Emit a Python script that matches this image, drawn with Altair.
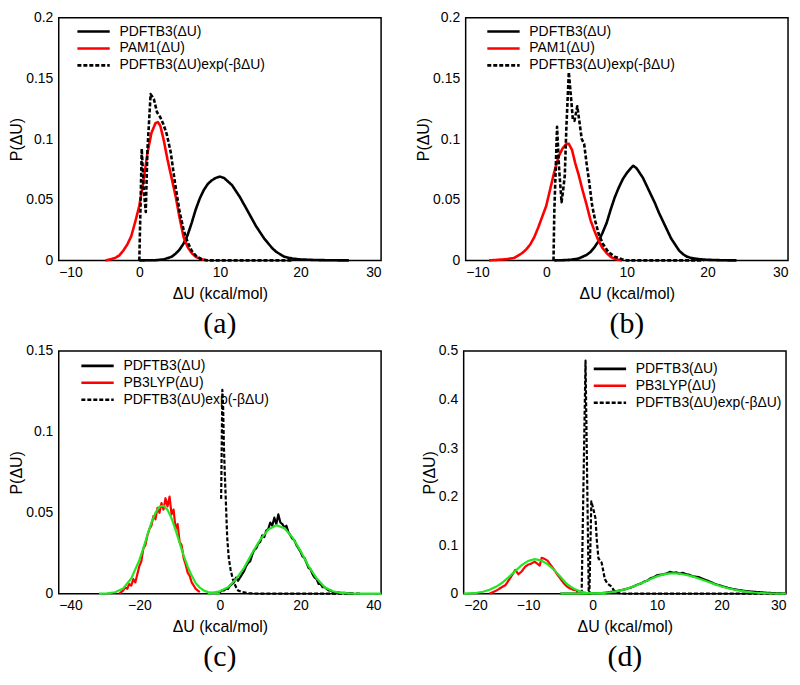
import altair as alt
import pandas as pd

FONT = "Liberation Sans"
SERIF = "Liberation Serif"

# ---------------- series names ----------------
S_DFTB3 = "PDFTB3(ΔU)"
S_AM1 = "PAM1(ΔU)"
S_B3LYP = "PB3LYP(ΔU)"
S_REW = "PDFTB3(ΔU)exp(-βΔU)"

# ---------------- panel (a) ----------------
A_DFTB3 = [(0, 0), (2, 0.0002), (3, 0.0008), (4, 0.003), (4.5, 0.0055), (5, 0.009), (5.5, 0.014),
           (6, 0.021), (6.5, 0.031), (7, 0.042), (7.5, 0.051), (8, 0.058), (8.5, 0.063), (9, 0.066),
           (9.5, 0.068), (10, 0.069), (10.5, 0.068), (11, 0.065), (11.5, 0.062), (12, 0.057),
           (12.5, 0.052), (13, 0.046), (13.5, 0.040), (14, 0.034), (14.5, 0.028), (15, 0.023),
           (15.5, 0.018), (16, 0.014), (16.5, 0.010), (17, 0.007), (17.5, 0.005), (18, 0.003),
           (19, 0.0015), (20, 0.0008), (22, 0.0003), (24, 0.0001), (26, 0)]
A_AM1 = [(-4.2, 0), (-3.5, 0.001), (-3, 0.002), (-2.5, 0.004), (-2, 0.008), (-1.5, 0.013), (-1, 0.020),
         (-0.5, 0.032), (0, 0.045), (0.5, 0.065), (1, 0.088), (1.5, 0.105), (2, 0.113), (2.3, 0.114),
         (2.6, 0.111), (3, 0.100), (3.5, 0.083), (4, 0.068), (4.5, 0.053), (5, 0.035), (5.5, 0.019),
         (6, 0.011), (6.5, 0.006), (7, 0.003), (7.5, 0.0013), (8, 0.0005), (8.5, 0)]
A_REW = [(0, 0), (0.3, 0.092), (0.55, 0.058), (0.8, 0.040), (1.0, 0.090), (1.4, 0.137), (1.8, 0.133),
         (2.2, 0.122), (2.6, 0.118), (3.0, 0.112), (3.4, 0.104), (3.9, 0.089), (4.4, 0.065), (5.0, 0.040),
         (5.5, 0.025), (6.0, 0.015), (6.5, 0.008), (7.0, 0.004), (7.7, 0.001), (8.5, 0), (19, 0)]

# ---------------- panel (b) ----------------
B_DFTB3 = [(1, 0), (2, 0.0002), (3, 0.0005), (4, 0.0015), (4.5, 0.003), (5, 0.0045), (5.5, 0.007),
           (6, 0.011), (6.5, 0.016), (7, 0.023), (7.5, 0.031), (8, 0.042), (8.5, 0.052), (9, 0.060),
           (9.5, 0.067), (10, 0.072), (10.5, 0.076), (10.8, 0.078), (11.2, 0.076), (11.5, 0.073),
           (12, 0.068), (12.5, 0.061), (13, 0.054), (13.5, 0.047), (14, 0.039), (14.5, 0.032),
           (15, 0.025), (15.5, 0.018), (16, 0.013), (16.5, 0.008), (17, 0.005), (17.5, 0.003),
           (18, 0.002), (19, 0.001), (20, 0.0005), (22, 0.0001), (23.6, 0)]
B_AM1 = [(-7.1, 0), (-6, 0.0005), (-5, 0.001), (-4, 0.002), (-3, 0.006), (-2.5, 0.009), (-2, 0.013),
         (-1.5, 0.019), (-1, 0.027), (-0.5, 0.036), (0, 0.045), (0.5, 0.059), (1, 0.073), (1.5, 0.085),
         (2, 0.092), (2.5, 0.096), (2.8, 0.096), (3.2, 0.091), (3.6, 0.080), (4, 0.071), (4.5, 0.058),
         (5, 0.046), (5.5, 0.033), (6, 0.024), (6.5, 0.016), (7, 0.010), (7.5, 0.006), (8, 0.003),
         (8.5, 0.0012), (9.4, 0)]
B_REW = [(0.9, 0), (1.0, 0.040), (1.34, 0.110), (1.6, 0.075), (1.9, 0.048), (2.1, 0.058), (2.3, 0.070),
         (2.5, 0.110), (2.8, 0.155), (3.0, 0.140), (3.3, 0.116), (3.5, 0.115), (3.85, 0.127), (4.1, 0.115),
         (4.4, 0.100), (4.7, 0.096), (5.0, 0.080), (5.3, 0.066), (5.7, 0.045), (6.1, 0.032), (6.5, 0.022),
         (7.0, 0.014), (7.7, 0.007), (8.5, 0.003), (9.4, 0.001), (10, 0), (19.5, 0)]

# ---------------- panel (c) ----------------
C_DFTB3 = [(-1, 0), (-0.5, 0.001), (0, 0.001), (0.5, 0.002), (1, 0.002), (1.5, 0.003), (2, 0.003),
           (2.5, 0.005), (3, 0.006), (3.5, 0.007), (4, 0.010), (4.5, 0.008), (5, 0.010), (5.5, 0.012),
           (6, 0.014), (6.5, 0.017), (7, 0.019), (7.5, 0.020), (8, 0.024), (8.5, 0.027), (9, 0.028),
           (9.5, 0.031), (10, 0.032), (10.5, 0.036), (11, 0.035), (11.5, 0.039), (12, 0.040),
           (12.5, 0.044), (13, 0.042), (13.5, 0.047), (14, 0.043), (14.5, 0.049), (15, 0.044),
           (15.5, 0.043), (16, 0.041), (16.5, 0.042), (17, 0.038), (17.5, 0.036), (18, 0.034),
           (18.5, 0.033), (19, 0.030), (19.5, 0.028), (20, 0.026), (20.5, 0.023), (21, 0.022),
           (21.5, 0.019), (22, 0.016), (22.5, 0.015), (23, 0.012), (23.5, 0.010), (24, 0.009),
           (24.5, 0.006), (25, 0.006), (25.5, 0.004), (26, 0.004), (26.5, 0.003), (27, 0.002),
           (27.5, 0.002), (28, 0.001), (29, 0.001), (30, 0.0005), (31, 0.0005), (33, 0)]
C_B3LYP = [(-25, 0), (-24.5, 0.001), (-24, 0.002), (-23.5, 0.004), (-23, 0.003), (-22.5, 0.006),
           (-22, 0.005), (-21.5, 0.009), (-21, 0.007), (-20.5, 0.012), (-20, 0.017), (-19.5, 0.020),
           (-19, 0.028), (-18.5, 0.030), (-18, 0.036), (-17.5, 0.040), (-17, 0.042), (-16.5, 0.048),
           (-16, 0.046), (-15.5, 0.053), (-15, 0.050), (-14.5, 0.056), (-14, 0.052), (-13.5, 0.059),
           (-13, 0.054), (-12.5, 0.060), (-12, 0.049), (-11.5, 0.052), (-11, 0.040), (-10.5, 0.043),
           (-10, 0.032), (-9.5, 0.030), (-9, 0.022), (-8.5, 0.018), (-8, 0.013), (-7.5, 0.011),
           (-7, 0.007), (-6.5, 0.005), (-6, 0.003), (-5.5, 0.002), (-5, 0.001)]
C_REW = [(0.3, 0.0586), (0.6, 0.126), (0.8, 0.115), (1.0, 0.090), (1.2, 0.075), (1.43, 0.060),
         (1.8, 0.035), (2.2, 0.022), (2.66, 0.0147), (3.2, 0.009), (3.9, 0.0045), (4.5, 0.002),
         (5.5, 0.001), (7, 0.0003), (10, 0), (35, 0)]
C_FIT_L = [(-30, 0), (-28, 0.0002), (-26, 0.0009), (-24, 0.0033), (-22, 0.0094), (-20, 0.0207),
           (-19, 0.0282), (-18, 0.0363), (-17, 0.0439), (-16, 0.0500), (-15, 0.0537), (-14, 0.0544),
           (-13, 0.0518), (-12, 0.0466), (-11, 0.0394), (-10, 0.0314), (-9, 0.0236), (-8, 0.0167),
           (-7, 0.0112), (-6, 0.0065), (-5, 0.0038), (-4, 0.002), (-3, 0.001), (-1, 0.0002), (0, 0)]
C_FIT_R = [(-3, 0), (-2, 0.0005), (0, 0.0015), (2, 0.004), (4, 0.009), (6, 0.016), (8, 0.0252),
           (10, 0.0334), (12, 0.0396), (14, 0.0423), (16, 0.0405), (18, 0.0348), (20, 0.0265),
           (22, 0.017), (24, 0.0095), (26, 0.004), (28, 0.0015), (30, 0.0005), (32, 0.0002),
           (34, 0.0001), (40, 0)]

# ---------------- panel (d) ----------------
D_DFTB3 = [(-5, 0), (-1, 0), (0, 0.0005), (1, 0.001), (2, 0.002), (3, 0.004), (4, 0.006), (5, 0.009),
           (6, 0.013), (7, 0.019), (7.5, 0.021), (8, 0.025), (8.5, 0.027), (9, 0.032), (9.5, 0.034),
           (10, 0.038), (10.5, 0.039), (11, 0.040), (11.5, 0.042), (12, 0.045), (12.5, 0.043),
           (13, 0.044), (13.5, 0.041), (14, 0.043), (14.5, 0.040), (15, 0.039), (15.5, 0.036),
           (16, 0.035), (16.5, 0.034), (17, 0.031), (18, 0.026), (19, 0.020), (20, 0.016), (21, 0.012),
           (22, 0.009), (23, 0.007), (24, 0.005), (25, 0.004), (26, 0.003), (27, 0.002), (28, 0.0013),
           (29, 0.0007), (30, 0.0003)]
D_B3LYP = [(-16, 0), (-15.5, 0.003), (-15, 0.006), (-14.5, 0.010), (-14, 0.014), (-13.5, 0.018),
           (-13, 0.028), (-12.5, 0.038), (-12, 0.049), (-11.5, 0.040), (-11, 0.046), (-10.5, 0.055),
           (-10, 0.060), (-9.5, 0.062), (-9, 0.066), (-8.5, 0.061), (-8.2, 0.058), (-7.9, 0.074),
           (-7.5, 0.072), (-7, 0.068), (-6.5, 0.059), (-6, 0.050), (-5.5, 0.040), (-5, 0.031),
           (-4.5, 0.022), (-4, 0.015), (-3.5, 0.011), (-3, 0.008), (-2.5, 0.007), (-2.3, 0)]
D_REW = [(-1.7, 0), (-1.1, 0.48), (-0.6, 0), (-0.5, 0), (-0.2, 0.19), (0.1, 0.175), (0.45, 0.155),
         (0.65, 0.11), (0.9, 0.073), (1.4, 0.064), (1.9, 0.030), (2.3, 0.021), (2.9, 0.015),
         (3.4, 0.005), (4.2, 0.001), (5, 0), (30, 0)]
D_FIT_L = [(-20, 0.0003), (-18, 0.0019), (-17, 0.0041), (-16, 0.0080), (-15, 0.0141), (-14, 0.0230),
           (-13, 0.0343), (-12, 0.0469), (-11, 0.0588), (-10, 0.0676), (-9, 0.0712), (-8, 0.0687),
           (-7, 0.0609), (-6, 0.0494), (-5, 0.035), (-4, 0.020), (-3, 0.011), (-2, 0.005), (-1, 0.002),
           (0, 0.001), (2, 0)]
D_FIT_R = [(-5, 0), (-2, 0.0001), (0, 0.0005), (1, 0.0011), (2, 0.0020), (3, 0.0035), (4, 0.0057),
           (5, 0.0089), (6, 0.0132), (7, 0.0184), (8, 0.0243), (9, 0.0303), (10, 0.0357), (11, 0.0397),
           (12, 0.0419), (13, 0.0417), (14, 0.0401), (15, 0.0373), (16, 0.0333), (17, 0.0288),
           (18, 0.0240), (19, 0.0193), (20, 0.0150), (21, 0.0112), (22, 0.0081), (23, 0.0057),
           (24, 0.0038), (25, 0.0025), (26, 0.0015), (27, 0.0009), (28, 0.0005), (29, 0.0003),
           (30, 0.0001)]

# ---------------- axes ----------------
X_TICKS_AB = [-10, 0, 10, 20, 30]
X_TICKS_C = [-40, -20, 0, 20, 40]
X_TICKS_D = [-20, -10, 0, 10, 20, 30]
Y_TICKS_AB = [0, 0.05, 0.1, 0.15, 0.2]
Y_TICKS_C = [0, 0.05, 0.1, 0.15]
Y_TICKS_D = [0, 0.1, 0.2, 0.3, 0.4, 0.5]

W, H = 324, 244
GREEN = "#22e622"


def make_panel(label, xdom, xticks, ydom, yticks, series, fits, width, lx, ly):
    names = [s[0] for s in series]
    rows = []
    for name, pts in series:
        for x, y in pts:
            rows.append({"x": x, "y": y, "series": name})
    df = pd.DataFrame(rows)

    xsc = alt.Scale(domain=xdom, nice=False, zero=False)
    ysc = alt.Scale(domain=ydom, nice=False, zero=False)
    xax = alt.Axis(values=xticks, title="ΔU (kcal/mol)", format="d")
    yax = alt.Axis(values=yticks, title="P(ΔU)", format=".2~f")

    leg = alt.Legend(
        title=None, orient="none", legendX=lx, legendY=ly,
        symbolType="M-2.5,0H2.5", symbolSize=169, symbolStrokeWidth=2.6,
        labelFont=FONT, labelFontSize=14, labelColor="black", labelOffset=18,
        rowPadding=2, padding=0, labelLimit=400,
    )
    lines = alt.Chart(df).mark_line(strokeJoin="round", strokeWidth=width).encode(
        x=alt.X("x:Q", scale=xsc, axis=xax),
        y=alt.Y("y:Q", scale=ysc, axis=yax),
        color=alt.Color("series:N", scale=alt.Scale(domain=names, range=["#000000", "#ff0000", "#000000"]), legend=leg),
        strokeDash=alt.StrokeDash("series:N", scale=alt.Scale(domain=names, range=[[1, 0], [1, 0], [4, 2]]), legend=leg),
    )
    layers = [lines]
    if fits:
        frows = []
        for i, pts in enumerate(fits):
            for x, y in pts:
                frows.append({"x": x, "y": y, "fit": f"fit{i}"})
        fdf = pd.DataFrame(frows)
        layers.append(
            alt.Chart(fdf).mark_line(color=GREEN, strokeWidth=2.2).encode(
                x=alt.X("x:Q", scale=xsc, axis=xax),
                y=alt.Y("y:Q", scale=ysc, axis=yax),
                detail="fit:N",
            )
        )
    return alt.layer(*layers).properties(
        width=W, height=H,
        title=alt.TitleParams(label, orient="bottom", font=SERIF, fontSize=30, fontWeight="normal",
                              color="black", anchor="middle", frame="group", offset=8),
    )


pa = make_panel("(a)", [-10, 30], X_TICKS_AB, [0, 0.2], Y_TICKS_AB,
                [(S_DFTB3, A_DFTB3), (S_AM1, A_AM1), (S_REW, A_REW)], None, 2.6, 27, 6)
pb = make_panel("(b)", [-10, 30], X_TICKS_AB, [0, 0.2], Y_TICKS_AB,
                [(S_DFTB3, B_DFTB3), (S_AM1, B_AM1), (S_REW, B_REW)], None, 2.6, 30, 6)
pc = make_panel("(c)", [-40, 40], X_TICKS_C, [0, 0.15], Y_TICKS_C,
                [(S_DFTB3, C_DFTB3), (S_B3LYP, C_B3LYP), (S_REW, C_REW)], [C_FIT_L, C_FIT_R], 2.2, 31, 7)
pd_ = make_panel("(d)", [-20, 30], X_TICKS_D, [0, 0.5], Y_TICKS_D,
                 [(S_DFTB3, D_DFTB3), (S_B3LYP, D_B3LYP), (S_REW, D_REW)], [D_FIT_L, D_FIT_R], 2.2, 139, 10)


def indep(c):
    return c.resolve_scale(color="independent", strokeDash="independent",
                           x="independent", y="independent").resolve_legend(
        color="independent", strokeDash="independent")


chart = indep(alt.vconcat(
    indep(alt.hconcat(pa, pb, spacing=33)),
    indep(alt.hconcat(pc, pd_, spacing=33)),
    spacing=3,
)).properties(
    padding={"left": 0, "top": 0, "right": 0, "bottom": 0},
    background="white",
).configure_view(
    stroke="black", strokeWidth=1.5,
).configure_axis(
    grid=False, ticks=False, domain=False,
    labelFont=FONT, labelFontSize=14, labelColor="black",
    titleFont=FONT, titleFontSize=16, titleFontWeight="normal", titleColor="black",
).configure_axisX(
    labelPadding=5, titlePadding=6,
).configure_axisY(
    labelPadding=6, titlePadding=1,
)

chart.save("out.html", embed_options={"renderer": "svg", "actions": False})
